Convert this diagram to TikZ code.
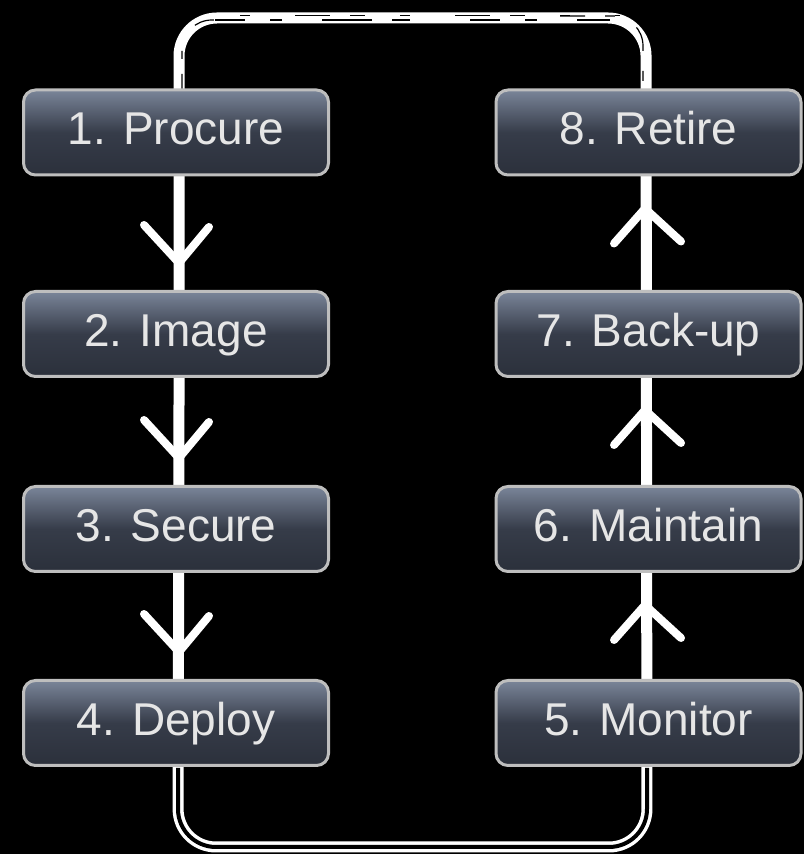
\documentclass[tikz,border=0pt]{standalone}
\usepackage{fontspec}
\setmainfont{Liberation Sans}
\usetikzlibrary{calc}
\definecolor{boxtop}{HTML}{7A8599}
\definecolor{boxmid}{HTML}{363C49}
\definecolor{boxbot}{HTML}{2B303B}
\definecolor{boxedge}{HTML}{BEBEBE}
\definecolor{txt}{HTML}{E6E6E6}
\tikzset{
  stepbox/.style={draw=boxedge, line width=3pt, rounded corners=12pt,
    minimum width=305pt, minimum height=85pt, inner sep=0pt,
    text height=33pt, text depth=8pt,
    top color=boxtop, bottom color=boxbot, middle color=boxmid,
    text=txt, font=\fontsize{46}{50}\selectfont},
  brush/.style={draw=white, line width=11pt, line cap=round, line join=round},
  streak/.style={draw=black, line width=1.2pt},
  chev/.style={draw=white, line width=8pt, line cap=round, line join=miter}
}
\begin{document}
\begin{tikzpicture}[x=1pt,y=1pt]
\fill[black] (0,0) rectangle (804,854);
\useasboundingbox (0,0) rectangle (804,854);
% loop corners
\coordinate (lt) at (179,836);
\coordinate (rt) at (646,836);
\coordinate (rb) at (647,7);
\coordinate (lb) at (178,7);
\draw[brush, rounded corners=38pt] (179,420) -- (lt) -- (rt) -- (rb) -- (lb) -- cycle;
% brush texture on the lower part (double thin strokes)
\draw[draw=black, line width=4pt, rounded corners=38pt] (178,86) -- (lb) -- (rb) -- (647,86);
% streaks on the top stroke
\draw[streak, dash pattern=on 30pt off 25pt on 12pt off 40pt on 50pt off 20pt on 18pt off 60pt] (215,834) -- (610,834);
\draw[streak, dash pattern=on 10pt off 45pt on 35pt off 20pt on 15pt off 35pt] (240,838.5) -- (620,838.5);
\draw[streak, rounded corners=30pt, dash pattern=on 20pt off 15pt on 8pt off 30pt] (182,760) -- (182,834) -- (260,834);
\draw[streak, rounded corners=30pt, dash pattern=on 25pt off 20pt on 10pt off 25pt] (560,838) -- (643,838) -- (643,770);
% boxes
\node[stepbox] (b1) at (176,721.5) {1. Procure};
\node[stepbox] (b2) at (176,520) {2. Image};
\node[stepbox] (b3) at (176,325) {3. Secure};
\node[stepbox] (b4) at (176,131) {4. Deploy};
\node[stepbox] (b5) at (648.5,131) {5. Monitor};
\node[stepbox] (b6) at (648.5,325) {6. Maintain};
\node[stepbox] (b7) at (648.5,520) {7. Back-up};
\node[stepbox] (b8) at (648.5,721.5) {8. Retire};
% downward chevrons (left)
\foreach \n in {b2,b3,b4}{
  \coordinate (a) at ($(\n.north)+(3,27)$);
  \draw[chev] ($(a)+(-35,38)$) -- (a) -- ($(a)+(30,36)$);
}
% upward chevrons (right)
\foreach \n in {b8,b7,b6}{
  \coordinate (a) at ($(\n.south)+(-3.5,-32)$);
  \draw[chev] ($(a)+(-31,-35)$) -- (a) -- ($(a)+(36,-33)$);
}
\end{tikzpicture}
\end{document}
